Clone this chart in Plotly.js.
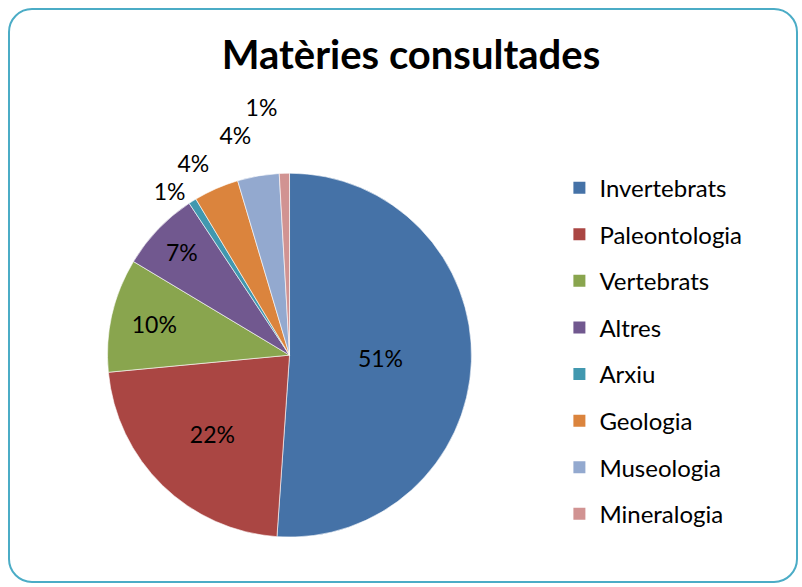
<!DOCTYPE html>
<html>
<head>
<meta charset="utf-8">
<script src="https://cdn.plot.ly/plotly-3.0.1.min.js"></script>
<style>
  html, body { margin: 0; padding: 0; background: #fff; }
  #wrap { position: relative; width: 802px; height: 587px; }
  #chart { position: absolute; left: 0; top: 0; width: 802px; height: 587px; }
  #frame { position: absolute; left: 8px; top: 8px; width: 790px; height: 575px;
           border: 2px solid #4bacc6; border-radius: 24px; pointer-events: none; box-sizing: border-box; }
  #chart .textline { display: none; }
</style>
</head>
<body>
<div id="wrap"><div id="chart"></div><div id="frame"></div></div>
<script>
const categories = ["Invertebrats", "Paleontologia", "Vertebrats", "Altres", "Arxiu", "Geologia", "Museologia", "Mineralogia"];
const values = [51.1, 22.4, 10.1, 7.1, 0.7, 4.0, 3.7, 0.9];
const colors = ["#4572A7", "#AA4643", "#89A54E", "#71588F", "#4198AF", "#DB843D", "#93A9CF", "#D19392"];
const textPositions = ["inside", "inside", "inside", "inside", "outside", "outside", "outside", "outside"];

const FONT = "Lato, 'Open Sans', sans-serif";

const pie = {
  type: "pie",
  labels: categories,
  values: values,
  sort: false,
  direction: "clockwise",
  rotation: 0,
  marker: { colors: colors, line: { color: "#ffffff", width: 0.6 } },
  texttemplate: "%{percent:.0%}",
  textposition: textPositions,
  insidetextorientation: "horizontal",
  textfont: { family: FONT, size: 23, color: "#000000" },
  outsidetextfont: { family: FONT, size: 23, color: "#000000" },
  insidetextfont: { family: FONT, size: 23, color: "#000000" },
  domain: { x: [0.134, 0.588], y: [0.085, 0.705] },
  showlegend: false,
  hoverinfo: "label+percent"
};

const legendTraces = categories.map((c, i) => ({
  type: "scatter",
  mode: "markers",
  x: [null], y: [null],
  name: c,
  legendgroup: "g" + i,
  marker: { symbol: "square", size: 13, color: colors[i] },
  showlegend: true,
  hoverinfo: "skip"
}));

const layout = {
  width: 802, height: 587,
  margin: { l: 0, r: 0, t: 0, b: 0 },
  paper_bgcolor: "#ffffff",
  plot_bgcolor: "rgba(0,0,0,0)",
  title: {
    text: "<b>Matèries consultades</b>",
    font: { family: FONT, size: 40, color: "#000000" },
    x: 0.5125, xref: "paper", xanchor: "center",
    y: 0.906, yref: "container", yanchor: "middle"
  },
  xaxis: { visible: false, domain: [0.9, 1] },
  yaxis: { visible: false, domain: [0.9, 1] },
  showlegend: true,
  legend: {
    x: 0.6975, xanchor: "left",
    y: 0.718, yanchor: "top",
    font: { family: FONT, size: 24, color: "#000000" },
    tracegroupgap: 12.4,
    itemsizing: "constant",
    bgcolor: "rgba(0,0,0,0)"
  }
};

Plotly.newPlot("chart", [pie].concat(legendTraces), layout, { displayModeBar: false, staticPlot: true });
</script>
</body>
</html>
